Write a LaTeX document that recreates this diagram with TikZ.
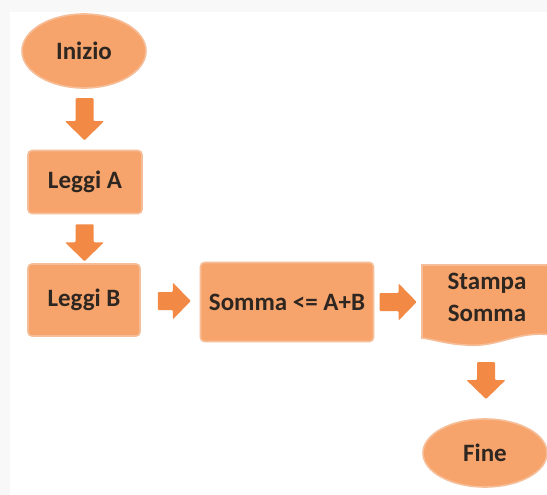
\documentclass[tikz,border=0pt]{standalone}
\usepackage{fontspec}
\setmainfont{Carlito}
\usetikzlibrary{shapes.geometric,calc}
\definecolor{boxfill}{HTML}{F7A46C}
\definecolor{boxedge}{HTML}{F6BE98}
\definecolor{arrfill}{HTML}{F28A45}
\definecolor{txt}{HTML}{2E2620}
\definecolor{pagebg}{HTML}{F8F8F8}
\tikzset{
  base/.style={fill=boxfill, draw=boxedge, line width=1.6pt, text=txt,
    font=\fontsize{25}{32}\selectfont\bfseries, inner sep=0pt},
  term/.style={base, ellipse},
  procbox/.style={base, rectangle, rounded corners=4pt},
  blockarr/.style={fill=arrfill, rounded corners=1pt},
}
\newcommand{\downarr}[2]{% center, length
  \fill[blockarr, shift={(#1)}] (-9,-#2/2) -- (9,-#2/2) -- (9,#2/2-19) -- (19.5,#2/2-19) -- (0,#2/2) -- (-19.5,#2/2-19) -- (-9,#2/2-19) -- cycle;}
\newcommand{\rightarr}[2]{%
  \fill[blockarr, shift={(#1)}] (-#2/2,-9) -- (-#2/2,9) -- (#2/2-18,9) -- (#2/2-18,18.5) -- (#2/2,0) -- (#2/2-18,-18.5) -- (#2/2-18,-9) -- cycle;}
\begin{document}
\begin{tikzpicture}[x=1pt,y=-1pt]
\useasboundingbox (0,0) rectangle (547,495);
\fill[pagebg] (0,0) rectangle (547,495);
\fill[white] (10,12) rectangle (547,495);

\node[term, minimum width=124pt, minimum height=74pt] (inizio) at (84,51) {Inizio};
\node[procbox, minimum width=114pt, minimum height=63pt] (leggiA) at (85,182) {Leggi A};
\node[procbox, minimum width=112pt, minimum height=72pt] (leggiB) at (84,300) {Leggi B};
\node[procbox, minimum width=173pt, minimum height=79pt] (somma) at (287,302) {Somma <= A+B};

% document shape
\path[base] (422,265) -- (552,265) -- (552,335)
  .. controls (518,330) and (498,348) .. (466,345)
  .. controls (446,344) and (432,339) .. (422,338) -- cycle;
\coordinate (stampaL) at (422,302);
\coordinate (stampaB) at (487,343);
\node[base, fill=none, draw=none, align=center] (stampa) at (487,297) {Stampa\\Somma};

\node[term, minimum width=124pt, minimum height=68pt] (fine) at (485,453) {Fine};

\path ($(inizio.south)!0.5!(leggiA.north)$) coordinate (a1);
\path ($(leggiA.south)!0.5!(leggiB.north)$) ++(0,4) coordinate (a2);
\path ($(leggiB.east)!0.5!(somma.west)$) ++(4,0) coordinate (a3);
\path ($(somma.east)!0.5!(stampaL)$) coordinate (a4);
\path ($(stampaB)!0.5!(fine.north)$) coordinate (a5);

\downarr{a1}{42}
\downarr{a2}{37}
\rightarr{a3}{33}
\rightarr{a4}{37}
\downarr{a5}{37}
\end{tikzpicture}
\end{document}
